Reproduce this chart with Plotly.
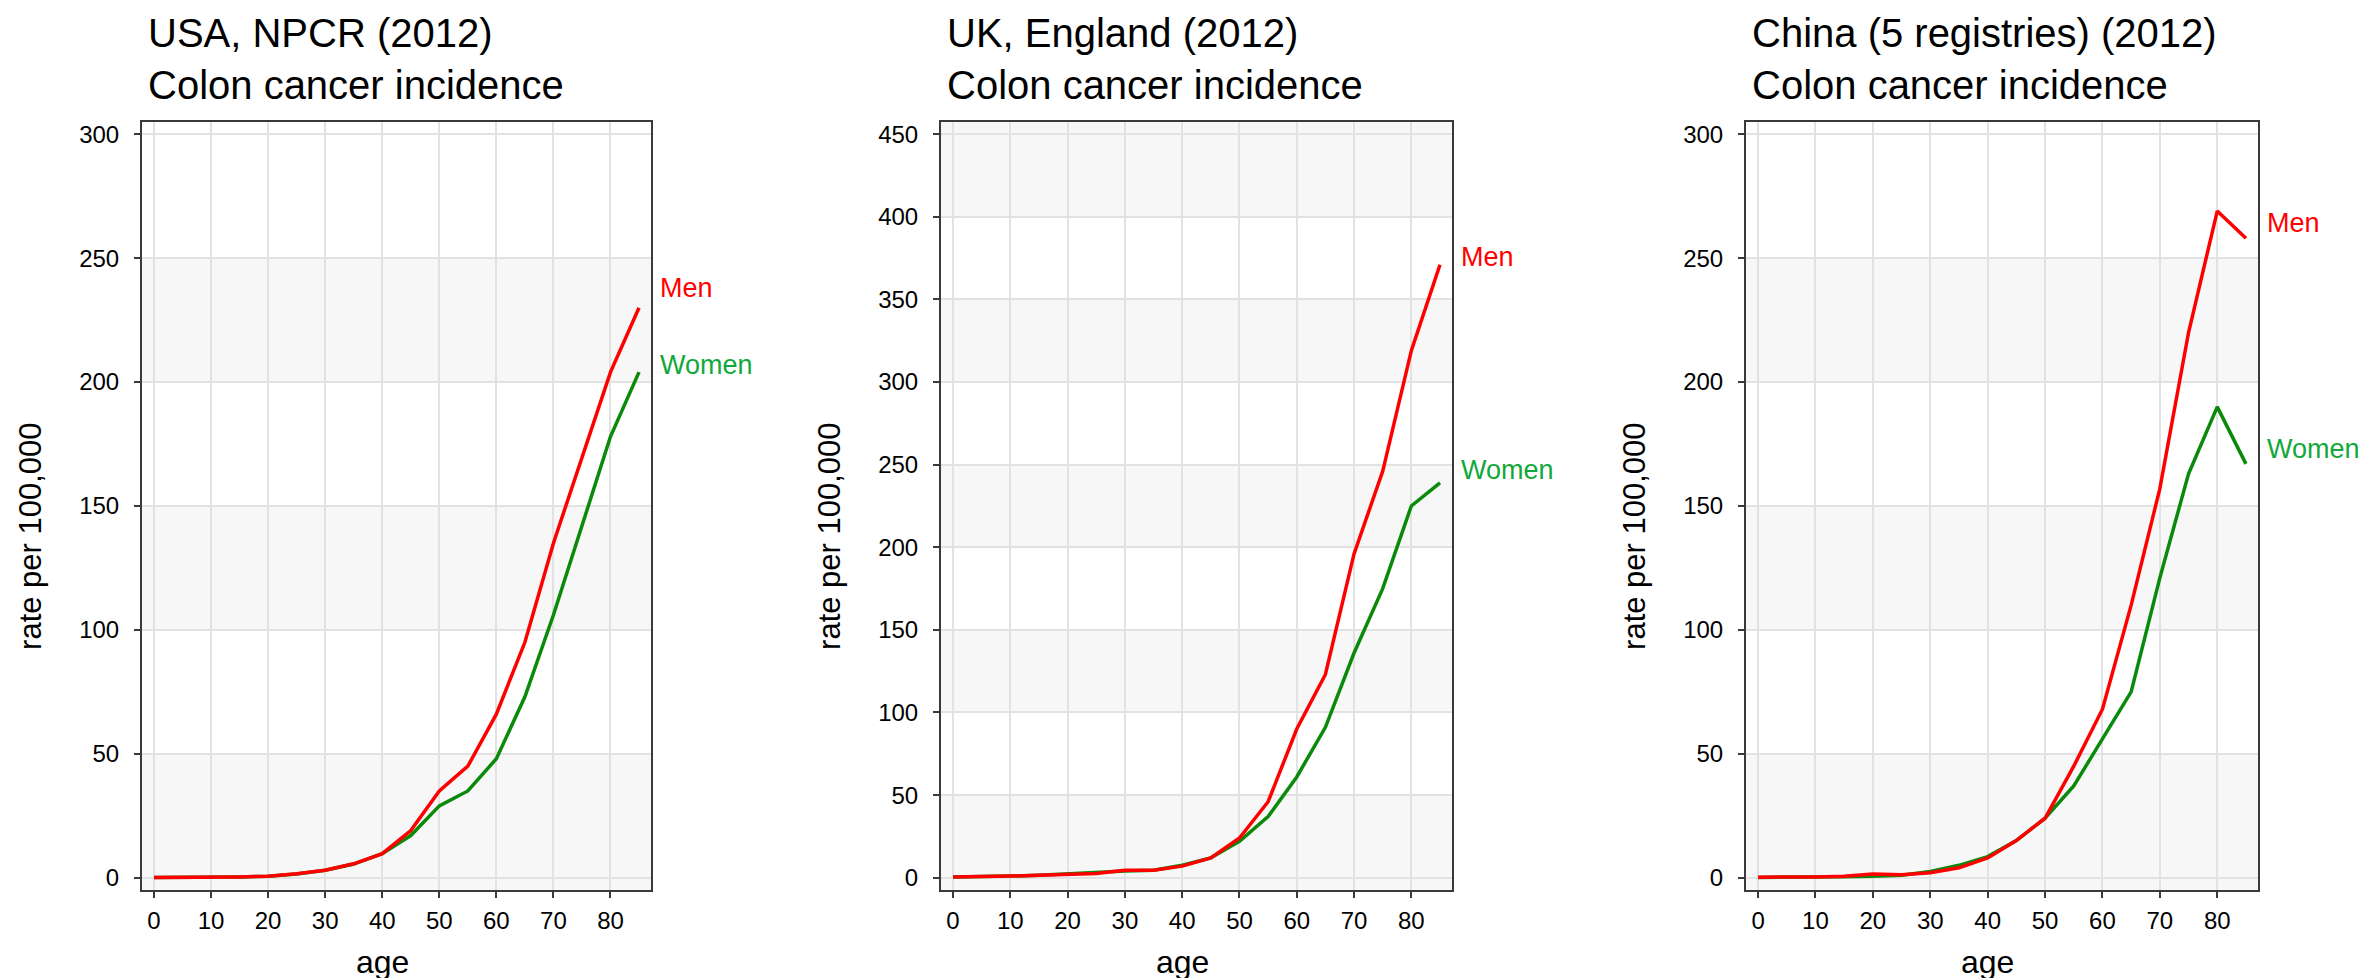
import plotly.graph_objects as go

W, H = 2370, 978

ages = [0, 5, 10, 15, 20, 25, 30, 35, 40, 45, 50, 55, 60, 65, 70, 75, 80, 85]

usa_men = [0.1, 0.1, 0.2, 0.3, 0.6, 1.6, 3, 5.6, 9.7, 19, 35, 45, 66, 95, 135, 169, 204, 230]
usa_women = [0.1, 0.1, 0.2, 0.3, 0.6, 1.5, 3, 5.5, 9.7, 17, 29, 35, 48, 73, 106, 142, 178, 204]

uk_men = [0.5, 0.5, 1, 1.5, 2, 2.5, 4.5, 4.5, 7, 12, 24, 46, 90, 123, 196, 246, 319, 371]
uk_women = [0.5, 0.5, 1, 1.5, 2.5, 3, 4, 4.5, 7.5, 12, 22, 37, 61, 91, 136, 175, 225, 239]

china_men = [0.2, 0.2, 0.3, 0.6, 1.5, 1.2, 2, 4, 8, 15, 24, 45, 68, 110, 157, 220, 269, 258]
china_women = [0.1, 0.1, 0.2, 0.4, 0.6, 1, 2.5, 5, 8.5, 15, 24, 37, 56, 75, 121, 163, 190, 167]

titles = ["USA, NPCR (2012)", "UK, England (2012)", "China (5 registries) (2012)"]
subtitle = "Colon cancer incidence"
y_max = [300, 450, 300]
x_ticks = [0, 10, 20, 30, 40, 50, 60, 70, 80]
men_label_y = [238, 376, 264]
women_label_y = [207, 247, 173]

panels = [
    (usa_men, usa_women),
    (uk_men, uk_women),
    (china_men, china_women),
]

# layout geometry (pixels)
left_px = [134, 933, 1738]
right_px = [643, 1444, 2250]
top_px, bottom_px = 113, 883
ydom = [1 - bottom_px / H, 1 - top_px / H]

RED = "#ff0000"
GREEN_LINE = "#0a8a0a"
GREEN_TXT = "#12a83a"
FONT = "Liberation Sans, Arial, sans-serif"

fig = go.Figure()
shapes = []
annotations = []

xr = [-2.1, 87.1]

for i, (men, women) in enumerate(panels):
    n = i + 1
    xa = "x" if n == 1 else f"x{n}"
    ya = "y" if n == 1 else f"y{n}"
    xkey = "xaxis" if n == 1 else f"xaxis{n}"
    ykey = "yaxis" if n == 1 else f"yaxis{n}"
    ym = y_max[i]
    ext = ym * 0.0168
    yr = [-ext, ym + ext]

    fig.add_trace(go.Scatter(x=ages, y=women, mode="lines", xaxis=xa, yaxis=ya,
                             line=dict(color=GREEN_LINE, width=3.5), showlegend=False,
                             name="Women"))
    fig.add_trace(go.Scatter(x=ages, y=men, mode="lines", xaxis=xa, yaxis=ya,
                             line=dict(color=RED, width=3.5), showlegend=False,
                             name="Men"))

    axis_common = dict(
        showline=True, linecolor="#3a3a3a", linewidth=2, mirror=True,
        ticks="outside", ticklen=6, tickwidth=1.5, tickcolor="#3a3a3a",
        showgrid=True, gridcolor="#e2e2e2", gridwidth=2, zeroline=False,
        tickfont=dict(family=FONT, size=24, color="#000000"),
    )
    fig.update_layout({
        xkey: dict(domain=[left_px[i] / W, right_px[i] / W], range=xr,
                   tickvals=x_ticks, anchor=ya, ticklabelstandoff=2, **axis_common),
        ykey: dict(domain=ydom, range=yr, tickvals=list(range(0, ym + 1, 50)),
                   anchor=xa, ticklabelstandoff=10, **axis_common),
    })

    # alternating background bands
    nb = ym // 50
    for b in range(nb):
        y0 = b * 50 if b > 0 else yr[0]
        y1 = (b + 1) * 50 if b < nb - 1 else yr[1]
        if b % 2 == 0:
            shapes.append(dict(type="rect", xref=f"{xa} domain", yref=ya,
                               x0=0, x1=1, y0=y0, y1=y1,
                               fillcolor="#f7f7f7", line=dict(width=0), layer="below"))

    # titles
    annotations.append(dict(
        text=f"{titles[i]}<br>{subtitle}", xref="paper", yref="paper",
        x=(left_px[i] + 4) / W, y=1.0, xanchor="left", yanchor="top",
        align="left", showarrow=False,
        font=dict(family=FONT, size=40, color="#000000")))

    # axis titles
    annotations.append(dict(
        text="age", xref=xa, yref="paper", x=40, y=1 - 955 / H,
        xanchor="center", yanchor="middle", showarrow=False,
        font=dict(family=FONT, size=32, color="#000000")))
    annotations.append(dict(
        text="rate per 100,000", xref="paper", yref="paper",
        x=(left_px[i] - 111) / W, y=1 - 528 / H, textangle=-90,
        xanchor="center", yanchor="middle", showarrow=False,
        font=dict(family=FONT, size=31, color="#000000")))

    # series labels
    annotations.append(dict(
        text="Men", xref="paper", yref=ya, x=(right_px[i] + 7) / W, y=men_label_y[i],
        xanchor="left", yanchor="middle", showarrow=False,
        font=dict(family=FONT, size=27, color=RED)))
    annotations.append(dict(
        text="Women", xref="paper", yref=ya, x=(right_px[i] + 7) / W, y=women_label_y[i],
        xanchor="left", yanchor="middle", showarrow=False,
        font=dict(family=FONT, size=27, color=GREEN_TXT)))

fig.update_layout(
    width=W, height=H,
    margin=dict(l=0, r=0, t=0, b=0),
    paper_bgcolor="white", plot_bgcolor="white",
    shapes=shapes, annotations=annotations,
    font=dict(family=FONT),
)

fig.write_html("out.html")
